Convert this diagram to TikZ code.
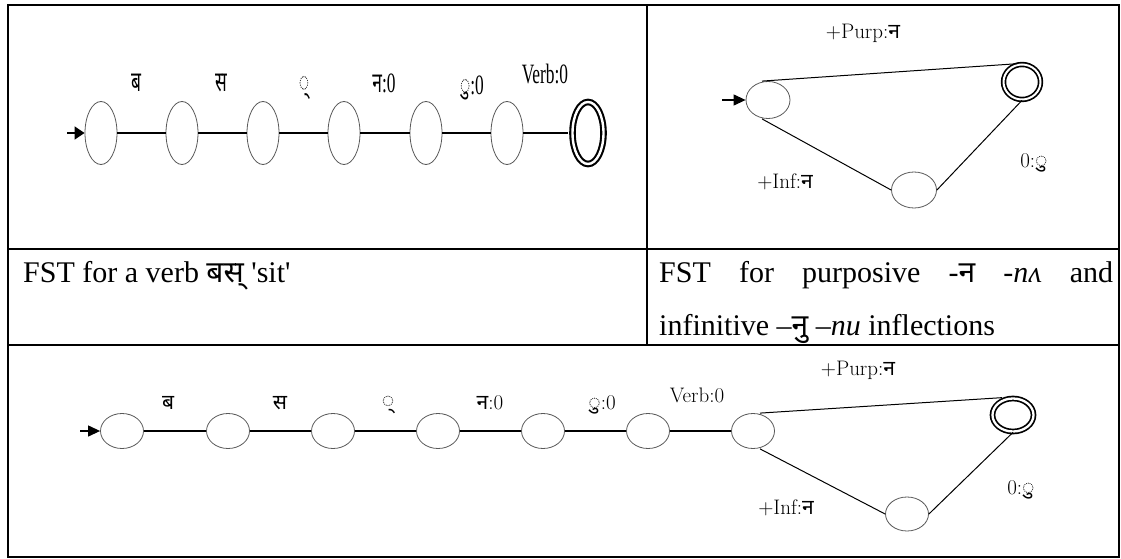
\documentclass[tikz,border=0pt]{standalone}
\usepackage{fontspec}
\usepackage{graphicx}
\usetikzlibrary{shapes.geometric,arrows.meta}
\newfontfamily\tnr[Ligatures=TeXOff]{Liberation Serif}
\newfontfamily\deva[Script=Devanagari]{Noto Sans}
\newcommand\hsq[1]{\scalebox{0.62}[1]{#1}}
\tikzset{
  tbl/.style={line width=2pt},
  st/.style={ellipse,draw=black!65,line width=0.8pt,inner sep=0pt,fill=white},
  fin/.style={ellipse,draw=black,double=white,inner sep=0pt},
  chainA/.style={line width=2.6pt},
  chainB/.style={line width=2pt},
  tri/.style={line width=1pt},
  startA/.style={-{Triangle[length=10pt,width=13pt]},line width=1.5pt},
  startB/.style={-{Triangle[length=12pt,width=11pt]},line width=1.2pt},
  lblA/.style={inner sep=0pt,font=\tnr\fontsize{28}{28}\selectfont},
  lblB/.style={inner sep=0pt,font=\fontsize{21}{21}\selectfont},
  captxt/.style={inner sep=0pt,anchor=base west,font=\tnr\fontsize{30}{30}\selectfont}
}
\begin{document}
\begin{tikzpicture}[x=1pt,y=-1pt]
\useasboundingbox (0,0) rectangle (1121,559);
% table frame
\draw[tbl] (8,5) rectangle (1119,557);
\draw[tbl] (8,249) -- (1119,249);
\draw[tbl] (8,345) -- (1119,345);
\draw[tbl] (647,5) -- (647,345);

% ---------- top-left FST ----------
\foreach \i/\x in {1/101,2/182,3/263,4/344,5/426,6/507}
  \node[st,minimum width=32pt,minimum height=63pt] (tl\i) at (\x,133) {};
\node[fin,line width=2.1pt,double distance=2.4pt,minimum width=31pt,minimum height=62pt] (tlf) at (588,133) {};
\coordinate (tla) at (67,133);
\draw[startA] (tla) -- (tl1.west);
\draw[chainA] (tl1) -- (tl2);
\draw[chainA] (tl2) -- (tl3);
\draw[chainA] (tl3) -- (tl4);
\draw[chainA] (tl4) -- (tl5);
\draw[chainA] (tl5) -- (tl6);
\draw[chainA,shorten >=3pt] (tl6) -- (tlf);
\node[lblA] (tlb1) at (136,83) {\hsq{\deva ब}};
\node[lblA] (tlb2) at (221,83) {\hsq{\deva स}};
\node[lblA] (tlb3) at (304,88) {\hsq{\deva ◌्}};
\node[lblA] (tlb4) at (384,83) {\hsq{{\deva न}:0}};
\node[lblA] (tlb5) at (472,88) {\hsq{{\deva ◌ु}:0}};
\node[lblA] (tlb6) at (545,74) {\hsq{Verb:0}};

% ---------- top-right FST ----------
\node[st,minimum width=44pt,minimum height=37pt] (tr0) at (768,100) {};
\node[fin,line width=1.7pt,double distance=2pt,minimum width=37pt,minimum height=35pt] (trf) at (1022,82) {};
\node[st,minimum width=45pt,minimum height=36pt] (tr1) at (914,190) {};
\coordinate (tra) at (722,100);
\draw[startB] (tra) -- (tr0.west);
\draw[tri] ([xshift=-6pt]tr0.north) -- ([xshift=-4pt]trf.north);
\draw[tri] ([xshift=-6pt]tr0.south) -- (tr1.west);
\draw[tri] (tr1.east) -- (trf.south);
\node[lblB] (trl1) at (863,33) {+Purp:{\deva न}};
\node[lblB] (trl2) at (785,182) {+Inf:{\deva न}};
\node[lblB] (trl3) at (1034,163) {0:{\deva ◌ु}};

% ---------- captions ----------
\node[captxt] (c1) at (23,282) {FST for a verb {\deva बस्} 'sit'};
\node[captxt] (c2) at (659,282) {\makebox[454pt][s]{FST for purposive -{\deva न} -\textit{nʌ} and}};
\node[captxt] (c3) at (659,335) {infinitive –{\deva नु} –\textit{nu} inflections};

% ---------- bottom FST ----------
\foreach \i/\x in {1/122,2/228,3/333,4/438,5/543,6/648,7/753}
  \node[st,minimum width=43pt,minimum height=35pt] (b\i) at (\x,431) {};
\node[fin,line width=1.7pt,double distance=2.3pt,minimum width=41pt,minimum height=33pt] (bf) at (1013,415) {};
\node[st,minimum width=43pt,minimum height=34pt] (bb) at (907,514) {};
\coordinate (ba) at (80,431);
\draw[startB] (ba) -- (b1.west);
\draw[chainB] (b1) -- (b2);
\draw[chainB] (b2) -- (b3);
\draw[chainB] (b3) -- (b4);
\draw[chainB] (b4) -- (b5);
\draw[chainB] (b5) -- (b6);
\draw[chainB] (b6) -- (b7);
\draw[tri] ([xshift=7pt]b7.north) -- ([xshift=-11pt]bf.north);
\draw[tri] ([xshift=7pt]b7.south) -- (bb.west);
\draw[tri] (bb.east) -- (bf.south);
\node[lblB] (bl1) at (168,403) {\deva ब};
\node[lblB] (bl2) at (280,403) {\deva स};
\node[lblB] (bl3) at (388,405) {\deva ◌्};
\node[lblB] (bl4) at (490,403) {{\deva न}:0};
\node[lblB] (bl5) at (602,405) {{\deva ◌ु}:0};
\node[lblB] (bl6) at (697,395) {Verb:0};
\node[lblB] (bl7) at (858,370) {+Purp:{\deva न}};
\node[lblB] (bl8) at (786,508) {+Inf:{\deva न}};
\node[lblB] (bl9) at (1021,490) {0:{\deva ◌ु}};
\end{tikzpicture}
\end{document}
